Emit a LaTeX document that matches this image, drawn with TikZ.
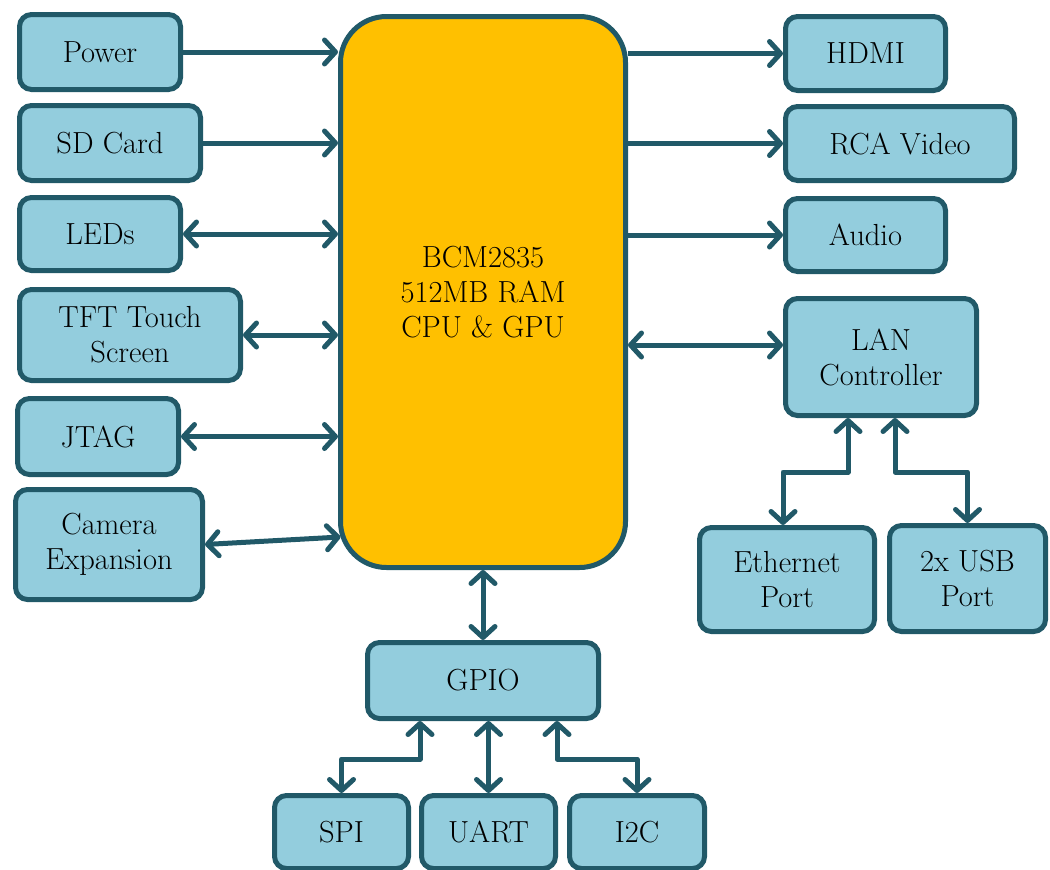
\documentclass[tikz,border=0pt]{standalone}
\usepackage{fontspec}
\usetikzlibrary{arrows.meta,calc}
\definecolor{boxfill}{HTML}{93CDDD}
\definecolor{boxline}{HTML}{215968}
\definecolor{cpufill}{HTML}{FFC000}
\begin{document}
\begin{tikzpicture}[x=1pt,y=-1pt,
  blk/.style={draw=boxline, line width=5pt, fill=boxfill, rounded corners=12pt,
    inner sep=0pt, align=center, font=\fontsize{30.5}{35}\selectfont},
  cpubox/.style={blk, fill=cpufill, rounded corners=46pt},
  tipend/.tip={Straight Barb[length=11pt, width=24pt, round]},
  arr/.style={draw=boxline, line width=5pt, -tipend},
  bi/.style={draw=boxline, line width=5pt, tipend-tipend, line join=round}]
\useasboundingbox (0,0) rectangle (1050,870);
% boxes
\node[blk, minimum width=161pt, minimum height=75pt] (pw)  at (100,52)    {Power};
\node[blk, minimum width=181pt, minimum height=75pt] (sd)  at (110,143)   {SD Card};
\node[blk, minimum width=161pt, minimum height=73pt] (led) at (100,234)   {LEDs};
\node[blk, minimum width=221pt, minimum height=91pt] (tft) at (130,335)   {TFT Touch\\Screen};
\node[blk, minimum width=161pt, minimum height=76pt] (jtag) at (98,436.5) {JTAG};
\node[blk, minimum width=187pt, minimum height=110pt] (cam) at (109,544.5) {Camera\\Expansion};
\node[cpubox, minimum width=285pt, minimum height=551pt] (cpu) at (483,292) {BCM2835\\512MB RAM\\CPU \& GPU};
\node[blk, minimum width=160pt, minimum height=74pt] (hdmi) at (865.5,53.5) {HDMI};
\node[blk, minimum width=229pt, minimum height=74pt] (rca)  at (900,143.5)  {RCA Video};
\node[blk, minimum width=160pt, minimum height=73pt] (aud)  at (865.5,235)  {Audio};
\node[blk, minimum width=191pt, minimum height=117pt] (lan) at (881,357)    {LAN\\Controller};
\node[blk, minimum width=175pt, minimum height=104pt] (eth) at (787,579.5)  {Ethernet\\Port};
\node[blk, minimum width=156pt, minimum height=106pt] (usb) at (967.5,578.5) {2x USB\\Port};
\node[blk, minimum width=231pt, minimum height=76pt] (gpio) at (483,680.5) {GPIO};
\node[blk, minimum width=134pt, minimum height=73pt] (spi)  at (341.5,832) {SPI};
\node[blk, minimum width=134pt, minimum height=73pt] (uart) at (488.5,832) {UART};
\node[blk, minimum width=135pt, minimum height=73pt] (i2c)  at (637,832)   {I2C};
% left connectors
\draw[arr] (pw.east) -- (pw.east -| cpu.west);
\draw[arr] (sd.east) -- (sd.east -| cpu.west);
\draw[bi] (led.east) -- (led.east -| cpu.west);
\draw[bi] (tft.east) -- (tft.east -| cpu.west);
\draw[bi] (jtag.east) -- (jtag.east -| cpu.west);
\coordinate (camend) at (340.5,537);
\draw[bi] (cam.east) -- (camend);
% right connectors
\draw[arr] (hdmi.west -| cpu.east) -- (hdmi.west);
\draw[arr] (rca.west -| cpu.east) -- (rca.west);
\draw[arr] (aud.west -| cpu.east) -- (aud.west);
\path ([yshift=12pt]lan.west) coordinate (lanw);
\draw[bi] (lanw -| cpu.east) -- (lanw);
\draw[bi] ([xshift=-33pt]lan.south) -- ++(0,54) -| ([xshift=-4pt]eth.north);
\draw[bi] ([xshift=14pt]lan.south) -- ++(0,54) -| (usb.north);
% bottom connectors
\draw[bi] (cpu.south) -- (gpio.north);
\draw[bi] ([xshift=-63pt]gpio.south) -- ++(0,38) -| (spi.north);
\draw[bi] (uart.north |- gpio.south) -- (uart.north);
\draw[bi] ([xshift=74pt]gpio.south) -- ++(0,38) -| (i2c.north);
\end{tikzpicture}
\end{document}
